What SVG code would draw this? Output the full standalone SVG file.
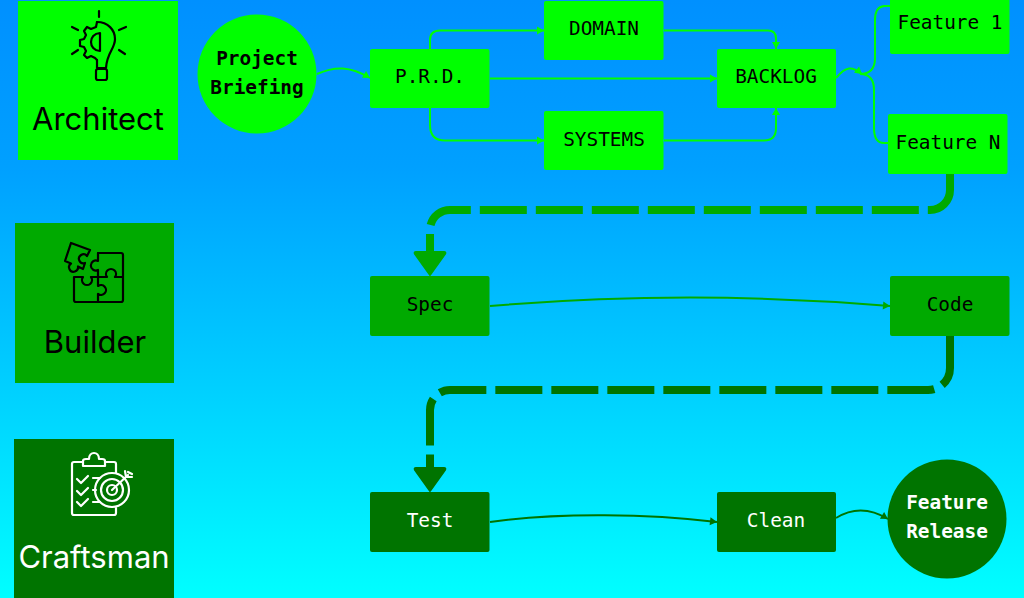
<svg xmlns="http://www.w3.org/2000/svg" width="1024" height="598" viewBox="0 0 1024 598">
<style>
.a{fill:#00ff00}
.b{fill:#00aa00}
.c{fill:#007400}
.t{font-family:"DejaVu Sans Mono","Liberation Mono",monospace;font-size:19.4px;text-anchor:middle;fill:#000}
.w{fill:#fff}
.bold{font-weight:bold}
.lab{font-family:"Inter","Roboto",sans-serif;font-size:31px;text-anchor:middle;fill:#000}
.ic{fill:none;stroke:#000;stroke-width:2.2;stroke-linecap:round;stroke-linejoin:round}
.icw{stroke:#fff}
.l1{fill:none;stroke:#00ff00;stroke-width:2}
.l2{fill:none;stroke:#00aa00;stroke-width:2}
.l3{fill:none;stroke:#007400;stroke-width:2}
.d2{fill:none;stroke:#00aa00;stroke-width:8}
.d3{fill:none;stroke:#007400;stroke-width:8}
.dash{stroke-dasharray:47 9}
</style>
<defs>
<linearGradient id="bg" x1="0" y1="0" x2="0" y2="1"><stop offset="0" stop-color="#0090ff"/><stop offset="0.28" stop-color="#00a0ff"/><stop offset="0.65" stop-color="#00d0ff"/><stop offset="1" stop-color="#00ffff"/></linearGradient>
<marker id="m1" markerUnits="userSpaceOnUse" markerWidth="10" markerHeight="10" refX="8" refY="5" orient="auto"><path d="M1 1L8 5L1 9Z" fill="#00ff00"/></marker>
<marker id="m2" markerUnits="userSpaceOnUse" markerWidth="10" markerHeight="10" refX="8" refY="5" orient="auto"><path d="M1 1L8 5L1 9Z" fill="#00aa00"/></marker>
<marker id="m3" markerUnits="userSpaceOnUse" markerWidth="10" markerHeight="10" refX="8" refY="5" orient="auto"><path d="M1 1L8 5L1 9Z" fill="#007400"/></marker>
</defs>
<rect width="1024" height="598" fill="url(#bg)"/>

<g id="connectors">
<path class="l1" marker-end="url(#m1)" d="M317 74C335 66 350 66 370 78"/>
<path class="l1" marker-end="url(#m1)" d="M430 49V40Q430 30.500 440 30.500H544"/>
<path class="l1" marker-end="url(#m1)" d="M430 108V125Q430 140.500 445 140.500H544"/>
<path class="l1" marker-end="url(#m1)" d="M490 78.500H717"/>
<path class="l1" marker-end="url(#m1)" d="M664 30.500H768Q776 30.500 776 38.500V49"/>
<path class="l1" marker-end="url(#m1)" d="M664 140.500H764Q776 140.500 776 128V108"/>
<path class="l1" marker-end="url(#m1)" d="M836 78C846 66 852 66 862 74"/>
<path class="l1" d="M890 6H884Q875 7 875 20V58Q875 74 860 74"/>
<path class="l1" d="M888 143H884Q874 143 874 128V90Q874 74 860 74"/>
<path class="d2" d="M950 172V178"/>
<path class="d2 dash" d="M950 176.400V190A20 20 0 0 1 930 210H450A20 20 0 0 0 430 230V252"/>
<path d="M430 275L415 254Q414 252 416 252H444Q446 252 445 254Z" fill="#00aa00" stroke="#00aa00" stroke-width="2" stroke-linejoin="round"/>
<path class="l2" marker-end="url(#m2)" d="M490 306C620 295 760 295 890 306"/>
<path class="d3" d="M950 334V342"/>
<path class="d3 dash" d="M950 340V368A22 22 0 0 1 928 390H450A20 20 0 0 0 430 410V468"/>
<path d="M430 491L415 470Q414 468 416 468H444Q446 468 445 470Z" fill="#007400" stroke="#007400" stroke-width="2" stroke-linejoin="round"/>
<path class="l3" marker-end="url(#m3)" d="M490 522C560 512 650 514 717 522"/>
<path class="l3" marker-end="url(#m3)" d="M836 518C852 508 870 508 888 519"/>
</g>

<g id="architect"><rect class="a" x="18" y="1" width="160" height="159"/>
<g class="ic"><path d="M99 11V17M72 27L78 30M72 54L78 50M126 27L119 30M125 54L119 50"/>
<path d="M97 22C108 22 115 30 115 39C115 49 107 52 106 68H97V60"/>
<path d="M100 33V51C88 50 88 34 100 33Z"/>
<path d="M97 22L96 27L91 29L87 27L84 31L86 35L84 39L80 40V46L84 47L86 51L84 55L87 58L91 56L95 58L97 60"/>
<rect x="96" y="69" width="11" height="11" rx="2"/></g>
<text class="lab" x="98" y="130">Architect</text></g>

<g id="builder"><rect class="b" x="15" y="223" width="159" height="160"/>
<g class="ic"><path d="M98 253H121Q123 253 123 255V300Q123 302 121 302H76Q74 302 74 300V277H83A5 5 0 1 0 91 277H98V286A5 5 0 1 1 98 294V302"/>
<path d="M98 253V261A5 5 0 1 0 98 270V277H107A5 5 0 1 1 115 277H123"/>
<path d="M71 243L90 250L87 256A4.500 4.500 0 1 0 85 263L83 269L78 266.500A4.500 4.500 0 1 1 71 263.500L65 261Z"/></g>
<text class="lab" x="95" y="353">Builder</text></g>

<g id="craftsman"><rect class="c" x="14" y="439" width="160" height="159"/>
<g class="ic icw"><path d="M105 462H114Q116 462 116 464V473M116 508V513Q116 515 114 515H74Q72 515 72 513V464Q72 462 74 462H83"/>
<path d="M83 466V461Q83 459 86 459H89C89 451 99 451 99 459H102Q105 459 105 461V466Z"/>
<path d="M77 479L81 483L88 476M77 491L81 495L88 488M77 502L81 506L88 499"/>
<path d="M93 478H100M93 490H96M93 502H100"/>
<circle cx="112" cy="490" r="17"/><circle cx="112" cy="490" r="11"/><circle cx="112" cy="490" r="5"/>
<path d="M112 490L128 475M125 471L126 477L132 477M128 472L132 474"/></g>
<text class="lab" x="94" y="568" style="fill:#fff">Craftsman</text></g>

<g id="project-briefing"><circle class="a" cx="257" cy="74" r="59.500"/>
<text class="t bold" x="257" y="64.500">Project</text><text class="t bold" x="257" y="93.500">Briefing</text></g>
<g id="prd"><rect class="a" x="370" y="49" width="119.500" height="59" rx="2"/><text class="t" x="430" y="83">P.R.D.</text></g>
<g id="domain"><rect class="a" x="544" y="1" width="119.500" height="59" rx="2"/><text class="t" x="604" y="34.500">DOMAIN</text></g>
<g id="systems"><rect class="a" x="544" y="111" width="119.500" height="59" rx="2"/><text class="t" x="604" y="145.500">SYSTEMS</text></g>
<g id="backlog"><rect class="a" x="717" y="49" width="119" height="59" rx="2"/><text class="t" x="776" y="83">BACKLOG</text></g>
<g id="feature-1"><rect class="a" x="890" y="-5" width="119.500" height="59" rx="2"/><text class="t" x="950" y="28.500">Feature 1</text></g>
<g id="feature-n"><rect class="a" x="888" y="114" width="119.500" height="60" rx="2"/><text class="t" x="948" y="148.500">Feature N</text></g>
<g id="spec"><rect class="b" x="370" y="276" width="119.500" height="60" rx="2"/><text class="t" x="430" y="310.500">Spec</text></g>
<g id="code"><rect class="b" x="890" y="276" width="119.500" height="60" rx="2"/><text class="t" x="950" y="310.500">Code</text></g>
<g id="test"><rect class="c" x="370" y="492" width="119.500" height="60" rx="2"/><text class="t w" x="430" y="526.500">Test</text></g>
<g id="clean"><rect class="c" x="717" y="492" width="119" height="60" rx="2"/><text class="t w" x="776" y="526.500">Clean</text></g>
<g id="feature-release"><circle class="c" cx="947" cy="519" r="59.500"/>
<text class="t bold w" x="947" y="508.500">Feature</text><text class="t bold w" x="947" y="537.500">Release</text></g>
</svg>
